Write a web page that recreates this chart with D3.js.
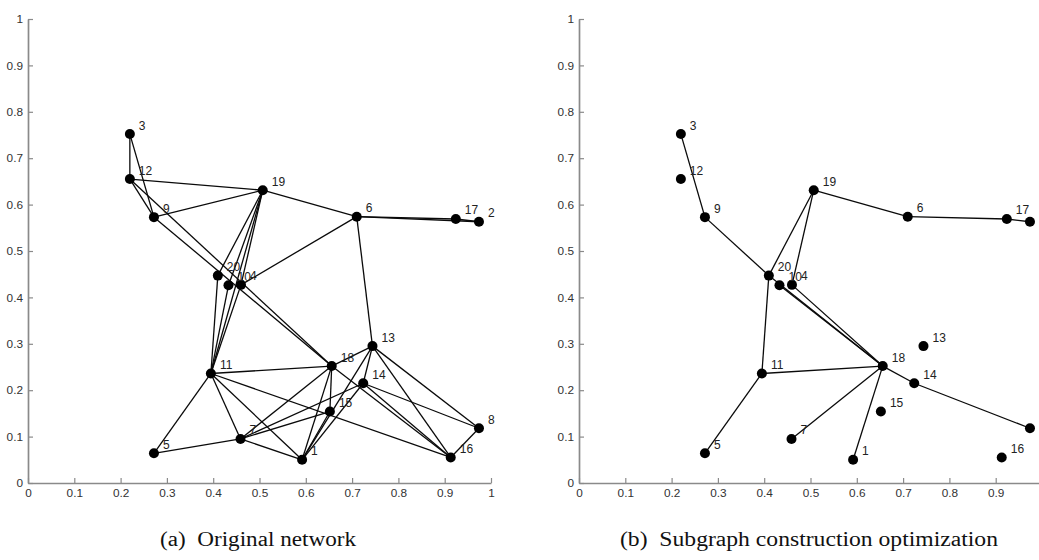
<!DOCTYPE html>
<html>
<head>
<meta charset="utf-8">
<script src="https://cdn.jsdelivr.net/npm/d3@7"></script>
<style>
  html, body { margin: 0; padding: 0; background: #fff; }
  svg { display: block; }
</style>
</head>
<body>
<svg id="chart" width="1039" height="560"></svg>
<script>
// ---------------- DATA ----------------
const nodeIds = [1, 2, 3, 4, 5, 6, 7, 8, 9, 10, 11, 12, 13, 14, 15, 16, 17, 18, 19, 20];
const nodeX = [0.592, 0.974, 0.220, 0.460, 0.272, 0.710, 0.459, 0.974, 0.272, 0.433,
               0.395, 0.220, 0.744, 0.724, 0.652, 0.913, 0.924, 0.656, 0.507, 0.410];
const nodeY = [0.050, 0.563, 0.752, 0.427, 0.064, 0.574, 0.095, 0.118, 0.573, 0.426,
               0.236, 0.655, 0.295, 0.215, 0.154, 0.055, 0.569, 0.252, 0.631, 0.447];

const edgesOriginal = [
  [3, 12], [3, 9], [12, 9], [12, 19], [12, 18], [9, 19], [9, 18],
  [19, 6], [19, 20], [19, 10], [19, 4], [19, 11],
  [6, 4], [6, 17], [6, 2], [17, 2], [6, 13],
  [20, 11], [10, 11], [4, 11],
  [11, 18], [11, 5], [11, 7], [11, 1], [11, 16],
  [5, 7], [7, 1], [7, 18], [7, 14], [7, 15],
  [1, 18], [1, 15], [1, 14], [1, 13],
  [18, 13], [18, 15], [18, 16],
  [13, 14], [13, 8], [13, 16], [14, 8], [14, 16], [8, 16]
];

const edgesSubgraph = [
  [3, 9], [9, 20], [19, 20], [19, 4], [19, 6], [6, 17], [17, 2],
  [20, 11], [20, 18], [10, 18], [4, 18], [11, 18], [11, 5],
  [18, 7], [18, 1], [18, 14], [14, 8]
];

const yTicks = [0, 0.1, 0.2, 0.3, 0.4, 0.5, 0.6, 0.7, 0.8, 0.9, 1];
const xTicksLeft = [0, 0.1, 0.2, 0.3, 0.4, 0.5, 0.6, 0.7, 0.8, 0.9, 1];
const xTicksRight = [0, 0.1, 0.2, 0.3, 0.4, 0.5, 0.6, 0.7, 0.8, 0.9];
const captions = ["(a)  Original network", "(b)  Subgraph construction optimization"];

// ---------------- DRAW ----------------
const W = 1039;
const svg = d3.select("#chart");
const nodes = nodeIds.map((id, i) => ({ id, x: nodeX[i], y: nodeY[i] }));
const byId = new Map(nodes.map(n => [n.id, n]));

const y = d3.scaleLinear().domain([0, 1]).range([483, 19]);
const fmt = d => (d === 0 || d === 1) ? String(d) : d3.format(".1f")(d);
const sans = "'Liberation Sans', Arial, Helvetica, sans-serif";

function panel(x0, edges, xTicks, caption, capWidth) {
  const x = d3.scaleLinear().domain([0, 1]).range([x0, x0 + 463]);
  const g = svg.append("g");

  const ax = g.append("g").attr("transform", `translate(0,${y(0)})`)
    .call(d3.axisBottom(x).tickValues(xTicks).tickSize(-5).tickSizeOuter(0).tickPadding(6).tickFormat(fmt));
  const ay = g.append("g").attr("transform", `translate(${x(0)},0)`)
    .call(d3.axisLeft(y).tickValues(yTicks).tickSize(-5).tickSizeOuter(0).tickPadding(5).tickFormat(fmt));
  [ax, ay].forEach(a => {
    a.select(".domain").attr("stroke", "#8a8a8a").attr("stroke-width", 1.7);
    a.selectAll(".tick line").attr("stroke", "#8a8a8a").attr("stroke-width", 1.2);
    a.selectAll(".tick text").attr("fill", "#333")
      .style("font-family", sans).style("font-size", "11.8px");
  });

  g.append("g").selectAll("line").data(edges).join("line")
    .attr("x1", d => x(byId.get(d[0]).x)).attr("y1", d => y(byId.get(d[0]).y))
    .attr("x2", d => x(byId.get(d[1]).x)).attr("y2", d => y(byId.get(d[1]).y))
    .attr("stroke", "#0a0a0a").attr("stroke-width", 1.3);

  g.append("g").selectAll("circle").data(nodes).join("circle")
    .attr("cx", d => x(d.x)).attr("cy", d => y(d.y)).attr("r", 5).attr("fill", "#000");

  g.append("g").selectAll("text").data(nodes.filter(d => x(d.x) + 9 < W - 2)).join("text")
    .attr("x", d => x(d.x) + 9).attr("y", d => y(d.y) - 4.5)
    .attr("fill", "#222")
    .style("font-family", sans).style("font-size", "12px")
    .text(d => d.id);

  g.append("text")
    .attr("x", x0 + 230).attr("y", 546)
    .attr("text-anchor", "middle")
    .attr("fill", "#111")
    .attr("textLength", capWidth).attr("lengthAdjust", "spacingAndGlyphs")
    .style("font-family", "'Liberation Serif', 'Times New Roman', serif").style("font-size", "20px")
    .style("white-space", "pre")
    .text(caption);
}

panel(28, edgesOriginal, xTicksLeft, captions[0], 196);
panel(579, edgesSubgraph, xTicksRight, captions[1], 378);
</script>
</body>
</html>
